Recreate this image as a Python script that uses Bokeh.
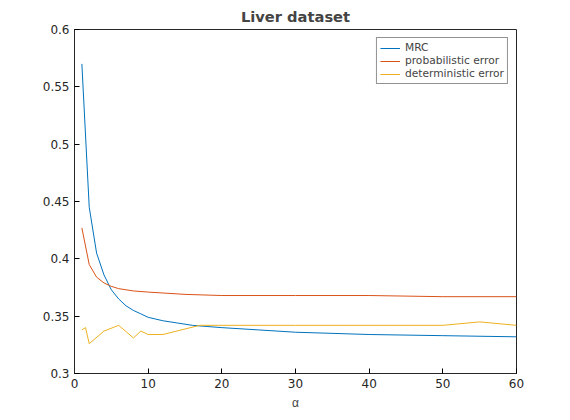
from bokeh.plotting import figure
from bokeh.models import FixedTicker, Range1d
from bokeh.embed import file_html
from bokeh.resources import INLINE

mrc_x = [1, 2, 3, 4, 5, 6, 7, 8, 9, 10, 12, 14, 16, 18, 20, 25, 30, 40, 50, 60]
mrc_y = [0.570, 0.445, 0.405, 0.386, 0.373, 0.365, 0.359, 0.355, 0.352, 0.349,
         0.346, 0.344, 0.342, 0.341, 0.340, 0.338, 0.336, 0.334, 0.333, 0.332]
prob_x = [1, 2, 3, 4, 5, 6, 8, 10, 15, 20, 30, 40, 50, 60]
prob_y = [0.427, 0.395, 0.384, 0.379, 0.376, 0.374, 0.372, 0.371, 0.369, 0.368,
          0.368, 0.368, 0.367, 0.367]
det_x = [1, 1.5, 2, 4, 6, 8, 9, 10, 12, 17, 30, 50, 55, 60]
det_y = [0.338, 0.340, 0.326, 0.337, 0.342, 0.331, 0.337, 0.334, 0.334, 0.342,
         0.342, 0.342, 0.345, 0.342]

p = figure(width=554, height=412, output_backend="svg", toolbar_location=None,
           title="Liver dataset", x_range=Range1d(0, 60), y_range=Range1d(0.3, 0.6),
           x_axis_label="α", min_border_left=74, min_border_right=38,
           min_border_top=20, min_border_bottom=30)
p.title.align = "center"
p.title.text_font = "DejaVu Sans"
p.title.text_font_size = "11pt"
p.xgrid.visible = False
p.ygrid.visible = False
p.outline_line_color = "#262626"

p.xaxis.ticker = FixedTicker(ticks=[0, 10, 20, 30, 40, 50, 60])
p.yaxis.ticker = FixedTicker(ticks=[0.3, 0.35, 0.4, 0.45, 0.5, 0.55, 0.6])
for ax in (p.xaxis, p.yaxis):
    ax.major_label_text_font = "DejaVu Sans"
    ax.major_label_text_font_size = "9pt"
    ax.major_label_text_color = "#262626"
    ax.axis_line_color = "#262626"
    ax.major_tick_in = 5
    ax.major_tick_out = 0
    ax.minor_tick_line_color = None
p.xaxis.axis_label_text_font_style = "normal"
p.xaxis.axis_label_text_font_size = "9pt"

p.line(mrc_x, mrc_y, color="#0072BD", line_width=1, legend_label="MRC")
p.line(prob_x, prob_y, color="#D95319", line_width=1, legend_label="probabilistic error")
p.line(det_x, det_y, color="#EDB120", line_width=1, legend_label="deterministic error")

p.legend.location = "top_right"
p.legend.label_text_font = "DejaVu Sans"
p.legend.label_text_font_size = "8pt"
p.legend.glyph_height = 12
p.legend.label_height = 12
p.legend.spacing = 0
p.legend.padding = 3
p.legend.margin = 8
p.legend.border_line_color = "#262626"

open("out.html", "w").write(file_html(p, INLINE))
